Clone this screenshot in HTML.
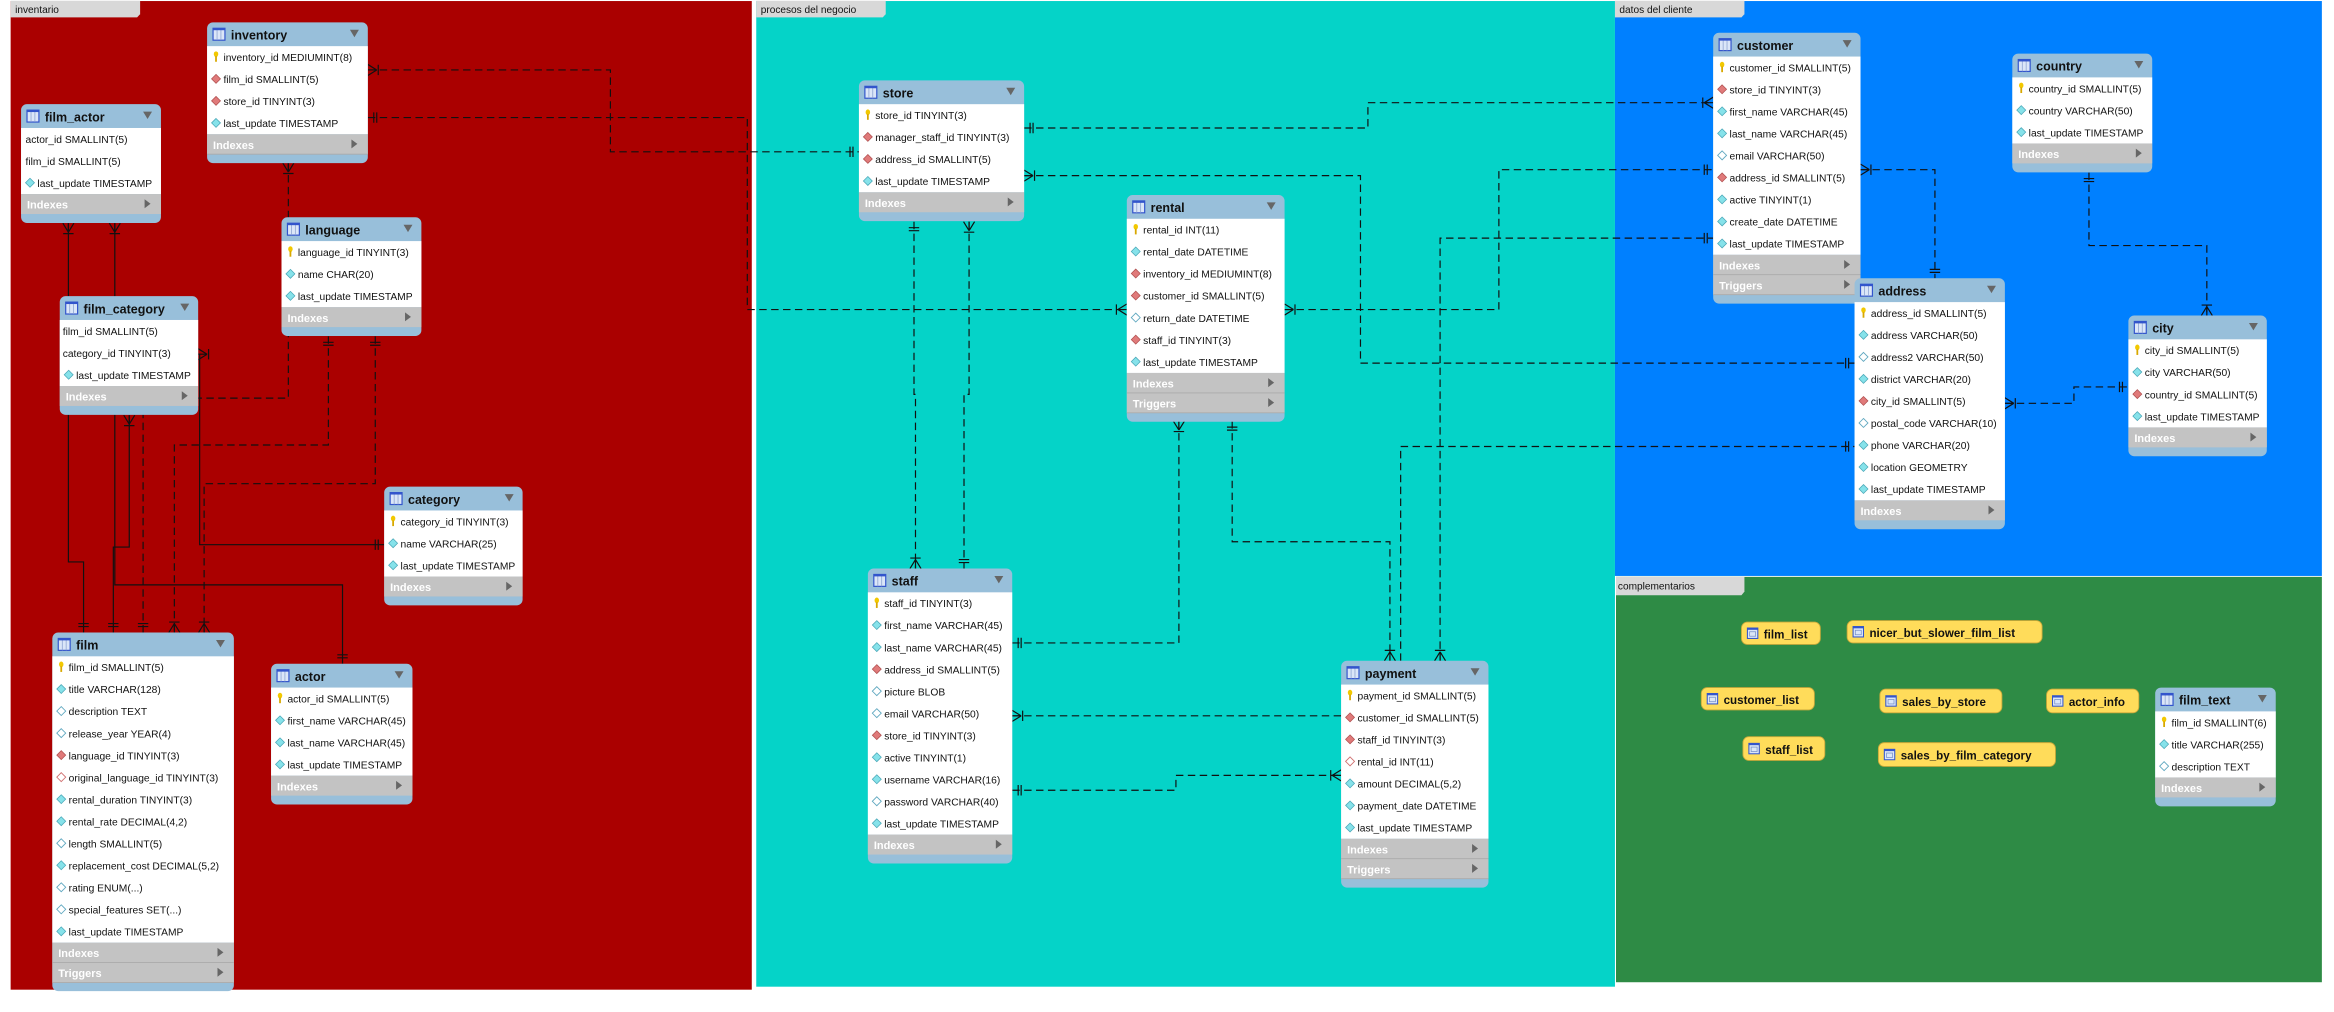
<!DOCTYPE html>
<html><head><meta charset="utf-8"><style>
html,body{margin:0;padding:0;background:#fff;}
svg{display:block}
text{font-family:"Liberation Sans",sans-serif;}
.h{font-size:8.4px;font-weight:bold;fill:#111}
.t{font-size:6.9px;fill:#111}
.s{font-size:7.4px;font-weight:bold;fill:#fff}
.g{font-size:6.8px;fill:#111}
.v{font-size:7.8px;font-weight:bold;fill:#111}
.dl{fill:none;stroke:#111;stroke-width:0.8;stroke-dasharray:5,3}
.sl{fill:none;stroke:#111;stroke-width:0.8}
</style></head><body>
<svg width="2334" height="1012" viewBox="0 0 1568 680" xmlns="http://www.w3.org/2000/svg">
<defs>
<marker id="one" markerUnits="userSpaceOnUse" markerWidth="20" markerHeight="20" refX="10" refY="10" orient="auto-start-reverse" viewBox="0 0 20 20"><path d="M4,6.5V13.5M6,6.5V13.5" stroke="#111" stroke-width="0.8" fill="none"/></marker>
<marker id="many" markerUnits="userSpaceOnUse" markerWidth="20" markerHeight="20" refX="10" refY="10" orient="auto-start-reverse" viewBox="0 0 20 20"><path d="M4,10L10,6.3M4,10L10,13.7M4,10H10M3,6.5V13.5" stroke="#111" stroke-width="0.8" fill="none"/></marker>
<g id="dk"><ellipse cx="0" cy="-1.8" rx="1.5" ry="1.9" fill="#f2c800"/><rect x="-0.6" y="-0.5" width="1.2" height="3.8" fill="#d8a800"/></g>
<g id="dc"><path d="M0,-3L3,0L0,3L-3,0Z" fill="#86e2ea" stroke="#4aa8b8" stroke-width="0.5"/></g>
<g id="dr"><path d="M0,-3L3,0L0,3L-3,0Z" fill="#e07a7a" stroke="#b05050" stroke-width="0.5"/></g>
<g id="de"><path d="M0,-3L3,0L0,3L-3,0Z" fill="#fff" stroke="#60a8c0" stroke-width="0.6"/></g>
<g id="dx"><path d="M0,-3L3,0L0,3L-3,0Z" fill="#fff" stroke="#d07070" stroke-width="0.6"/></g>
<g id="ti"><rect x="0" y="0" width="8" height="8" fill="#dbe6f8" stroke="#3355cc" stroke-width="0.8"/><path d="M2.7,1V8M5.3,1V8" stroke="#8aa0d0" stroke-width="0.5"/><rect x="0" y="0" width="8" height="1.3" fill="#3355cc"/></g>
<g id="vi"><rect x="0" y="0" width="7" height="7" fill="#dbe6f8" stroke="#3355cc" stroke-width="0.7"/><rect x="1.5" y="2.5" width="4" height="3" fill="none" stroke="#7790c8" stroke-width="0.5"/><rect x="0" y="0" width="7" height="1.2" fill="#3355cc"/></g>
</defs>

<!-- regions -->
<rect x="7" y="0.7" width="498" height="664.3" fill="#aa0000"/>
<rect x="508" y="0.7" width="577" height="662.3" fill="#05d3c8"/>
<rect x="1085" y="0.7" width="475" height="386.3" fill="#0080ff"/>
<rect x="1085.7" y="387.6" width="474.3" height="272.4" fill="#2e8b45"/>
<path d="M7,0.5H94V9.5L92,11.7H7Z" fill="#d8d8d8"/><text class="g" x="10" y="8.8">inventario</text>
<path d="M508,0.5H595V9.5L593,11.7H508Z" fill="#d8d8d8"/><text class="g" x="511" y="8.8">procesos del negocio</text>
<path d="M1085,0.5H1172V9.5L1170,11.7H1085Z" fill="#d8d8d8"/><text class="g" x="1088" y="8.8">datos del cliente</text>
<path d="M1085.7,387.6H1172V397.5L1170,400H1085.7Z" fill="#d8d8d8"/><text class="g" x="1087" y="396.2">complementarios</text>

<!-- connectors -->
<path class="dl" d="M247,47H410V102H577" marker-start="url(#many)" marker-end="url(#one)"/>
<path class="dl" d="M247,79H502V208H757" marker-start="url(#one)" marker-end="url(#many)"/>
<path class="dl" d="M688,86H919V69H1151" marker-start="url(#one)" marker-end="url(#many)"/>
<path class="dl" d="M688,118H914V244H1246" marker-start="url(#many)" marker-end="url(#one)"/>
<path class="dl" d="M863,208H1007V114H1151" marker-start="url(#many)" marker-end="url(#one)"/>
<path class="dl" d="M967.5,444V160H1151" marker-start="url(#many)" marker-end="url(#one)"/>
<path class="dl" d="M941,444V300H1246" marker-end="url(#one)"/>
<path class="dl" d="M827.8,283V364H933.8V444" marker-start="url(#one)" marker-end="url(#many)"/>
<path class="dl" d="M792,283V432H680" marker-start="url(#many)" marker-end="url(#one)"/>
<path class="dl" d="M680,481H901" marker-start="url(#many)"/>
<path class="dl" d="M680,531H790V521H901" marker-start="url(#one)" marker-end="url(#many)"/>
<path class="dl" d="M614,149V265H615V382" marker-start="url(#one)" marker-end="url(#many)"/>
<path class="dl" d="M651,149V265H647.6V382" marker-start="url(#many)" marker-end="url(#one)"/>
<path class="dl" d="M1250,114H1300V187" marker-start="url(#many)" marker-end="url(#one)"/>
<path class="dl" d="M1403.5,116V165H1482.7V212" marker-start="url(#one)" marker-end="url(#many)"/>
<path class="dl" d="M1347,271H1393.4V260H1430" marker-start="url(#many)" marker-end="url(#one)"/>
<path class="sl" d="M45.8,150V377.6H56V425" marker-start="url(#many)" marker-end="url(#one)"/>
<path class="sl" d="M77,150V393H230V446" marker-start="url(#many)" marker-end="url(#one)"/>
<path class="sl" d="M86.7,279V367.6H76V425" marker-start="url(#many)" marker-end="url(#one)"/>
<path class="sl" d="M133,238H134V366H258" marker-start="url(#many)" marker-end="url(#one)"/>
<path class="dl" d="M193.6,109.6V267.5H96V425" marker-start="url(#many)" marker-end="url(#one)"/>
<path class="dl" d="M220.5,226V299H117V425" marker-start="url(#one)" marker-end="url(#many)"/>
<path class="dl" d="M252,226V325H137V425" marker-start="url(#one)" marker-end="url(#many)"/>

<!-- inventory -->
<g>
<rect x="139" y="15" width="108" height="94.6" rx="4" fill="#98bfda"/>
<rect x="139" y="31" width="108" height="59.2" fill="#fff"/>
<rect x="139" y="90.2" width="108" height="13.4" fill="#c3c3c3"/><path d="M139,103.6h108" stroke="#aaa" stroke-width="0.6"/>
<use href="#ti" x="143" y="19"/><text class="h" x="155" y="26.5">inventory</text><polygon points="235,20 241,20 238,25" fill="#666"/>
<use href="#dk" x="145" y="38.2"/><text class="t" x="150" y="41">inventory_id MEDIUMINT(8)</text>
<use href="#dr" x="145" y="53"/><text class="t" x="150" y="55.8">film_id SMALLINT(5)</text>
<use href="#dr" x="145" y="67.8"/><text class="t" x="150" y="70.6">store_id TINYINT(3)</text>
<use href="#dc" x="145" y="82.6"/><text class="t" x="150" y="85.4">last_update TIMESTAMP</text>
<text class="s" x="143" y="100">Indexes</text><polygon points="236,93.7 236,99.7 240,96.7" fill="#666"/>
</g>
<!-- film_actor -->
<g>
<rect x="14" y="70" width="94" height="79.8" rx="4" fill="#98bfda"/>
<rect x="14" y="86" width="94" height="44.4" fill="#fff"/>
<rect x="14" y="130.4" width="94" height="13.4" fill="#c3c3c3"/>
<use href="#ti" x="18" y="74"/><text class="h" x="30" y="81.5">film_actor</text><polygon points="96,75 102,75 99,80" fill="#666"/>
<text class="t" x="17" y="96">actor_id SMALLINT(5)</text>
<text class="t" x="17" y="110.8">film_id SMALLINT(5)</text>
<use href="#dc" x="20" y="122.8"/><text class="t" x="25" y="125.6">last_update TIMESTAMP</text>
<text class="s" x="18" y="140.2">Indexes</text><polygon points="97,133.9 97,139.9 101,136.9" fill="#666"/>
</g>
<!-- language -->
<g>
<rect x="189" y="146" width="94" height="79.8" rx="4" fill="#98bfda"/>
<rect x="189" y="162" width="94" height="44.4" fill="#fff"/>
<rect x="189" y="206.4" width="94" height="13.4" fill="#c3c3c3"/>
<use href="#ti" x="193" y="150"/><text class="h" x="205" y="157.5">language</text><polygon points="271,151 277,151 274,156" fill="#666"/>
<use href="#dk" x="195" y="169.2"/><text class="t" x="200" y="172">language_id TINYINT(3)</text>
<use href="#dc" x="195" y="184"/><text class="t" x="200" y="186.8">name CHAR(20)</text>
<use href="#dc" x="195" y="198.8"/><text class="t" x="200" y="201.6">last_update TIMESTAMP</text>
<text class="s" x="193" y="216.2">Indexes</text><polygon points="272,209.9 272,215.9 276,212.9" fill="#666"/>
</g>
<!-- film_category -->
<g>
<rect x="40" y="199" width="93" height="79.8" rx="4" fill="#98bfda"/>
<rect x="40" y="215" width="93" height="44.4" fill="#fff"/>
<rect x="40" y="259.4" width="93" height="13.4" fill="#c3c3c3"/>
<use href="#ti" x="44" y="203"/><text class="h" x="56" y="210.5">film_category</text><polygon points="121,204 127,204 124,209" fill="#666"/>
<text class="t" x="42" y="225">film_id SMALLINT(5)</text>
<text class="t" x="42" y="239.8">category_id TINYINT(3)</text>
<use href="#dc" x="46" y="251.8"/><text class="t" x="51" y="254.6">last_update TIMESTAMP</text>
<text class="s" x="44" y="269.2">Indexes</text><polygon points="122,262.9 122,268.9 126,265.9" fill="#666"/>
</g>
<!-- category -->
<g>
<rect x="258" y="327" width="93" height="79.8" rx="4" fill="#98bfda"/>
<rect x="258" y="343" width="93" height="44.4" fill="#fff"/>
<rect x="258" y="387.4" width="93" height="13.4" fill="#c3c3c3"/>
<use href="#ti" x="262" y="331"/><text class="h" x="274" y="338.5">category</text><polygon points="339,332 345,332 342,337" fill="#666"/>
<use href="#dk" x="264" y="350.2"/><text class="t" x="269" y="353">category_id TINYINT(3)</text>
<use href="#dc" x="264" y="365"/><text class="t" x="269" y="367.8">name VARCHAR(25)</text>
<use href="#dc" x="264" y="379.8"/><text class="t" x="269" y="382.6">last_update TIMESTAMP</text>
<text class="s" x="262" y="397.2">Indexes</text><polygon points="340,390.9 340,396.9 344,393.9" fill="#666"/>
</g>
<!-- film -->
<g>
<rect x="35" y="425" width="122" height="241" rx="4" fill="#98bfda"/>
<rect x="35" y="441" width="122" height="192.4" fill="#fff"/>
<rect x="35" y="633.4" width="122" height="13.4" fill="#c3c3c3"/>
<rect x="35" y="646.8" width="122" height="13.4" fill="#c3c3c3"/><path d="M35,646.8h122M35,660.2h122" stroke="#aaa" stroke-width="0.6"/>
<use href="#ti" x="39" y="429"/><text class="h" x="51" y="436.5">film</text><polygon points="145,430 151,430 148,435" fill="#666"/>
<use href="#dk" x="41" y="448.2"/><text class="t" x="46" y="451">film_id SMALLINT(5)</text>
<use href="#dc" x="41" y="463"/><text class="t" x="46" y="465.8">title VARCHAR(128)</text>
<use href="#de" x="41" y="477.8"/><text class="t" x="46" y="480.6">description TEXT</text>
<use href="#de" x="41" y="492.6"/><text class="t" x="46" y="495.4">release_year YEAR(4)</text>
<use href="#dr" x="41" y="507.4"/><text class="t" x="46" y="510.2">language_id TINYINT(3)</text>
<use href="#dx" x="41" y="522.2"/><text class="t" x="46" y="525">original_language_id TINYINT(3)</text>
<use href="#dc" x="41" y="537"/><text class="t" x="46" y="539.8">rental_duration TINYINT(3)</text>
<use href="#dc" x="41" y="551.8"/><text class="t" x="46" y="554.6">rental_rate DECIMAL(4,2)</text>
<use href="#de" x="41" y="566.6"/><text class="t" x="46" y="569.4">length SMALLINT(5)</text>
<use href="#dc" x="41" y="581.4"/><text class="t" x="46" y="584.2">replacement_cost DECIMAL(5,2)</text>
<use href="#de" x="41" y="596.2"/><text class="t" x="46" y="599">rating ENUM(...)</text>
<use href="#de" x="41" y="611"/><text class="t" x="46" y="613.8">special_features SET(...)</text>
<use href="#dc" x="41" y="625.8"/><text class="t" x="46" y="628.6">last_update TIMESTAMP</text>
<text class="s" x="39" y="643.2">Indexes</text><polygon points="146,636.9 146,642.9 150,639.9" fill="#666"/>
<text class="s" x="39" y="656.6">Triggers</text><polygon points="146,650.3 146,656.3 150,653.3" fill="#666"/>
</g>
<!-- actor -->
<g>
<rect x="182" y="446" width="95" height="94.6" rx="4" fill="#98bfda"/>
<rect x="182" y="462" width="95" height="59.2" fill="#fff"/>
<rect x="182" y="521.2" width="95" height="13.4" fill="#c3c3c3"/>
<use href="#ti" x="186" y="450"/><text class="h" x="198" y="457.5">actor</text><polygon points="265,451 271,451 268,456" fill="#666"/>
<use href="#dk" x="188" y="469.2"/><text class="t" x="193" y="472">actor_id SMALLINT(5)</text>
<use href="#dc" x="188" y="484"/><text class="t" x="193" y="486.8">first_name VARCHAR(45)</text>
<use href="#dc" x="188" y="498.8"/><text class="t" x="193" y="501.6">last_name VARCHAR(45)</text>
<use href="#dc" x="188" y="513.6"/><text class="t" x="193" y="516.4">last_update TIMESTAMP</text>
<text class="s" x="186" y="531">Indexes</text><polygon points="266,524.7 266,530.7 270,527.7" fill="#666"/>
</g>
<!-- store -->
<g>
<rect x="577" y="54" width="111" height="94.6" rx="4" fill="#98bfda"/>
<rect x="577" y="70" width="111" height="59.2" fill="#fff"/>
<rect x="577" y="129.2" width="111" height="13.4" fill="#c3c3c3"/>
<use href="#ti" x="581" y="58"/><text class="h" x="593" y="65.5">store</text><polygon points="676,59 682,59 679,64" fill="#666"/>
<use href="#dk" x="583" y="77.2"/><text class="t" x="588" y="80">store_id TINYINT(3)</text>
<use href="#dr" x="583" y="92"/><text class="t" x="588" y="94.8">manager_staff_id TINYINT(3)</text>
<use href="#dr" x="583" y="106.8"/><text class="t" x="588" y="109.6">address_id SMALLINT(5)</text>
<use href="#dc" x="583" y="121.6"/><text class="t" x="588" y="124.4">last_update TIMESTAMP</text>
<text class="s" x="581" y="139">Indexes</text><polygon points="677,132.7 677,138.7 681,135.7" fill="#666"/>
</g>
<!-- rental -->
<g>
<rect x="757" y="131" width="106" height="152.4" rx="4" fill="#98bfda"/>
<rect x="757" y="147" width="106" height="103.6" fill="#fff"/>
<rect x="757" y="250.6" width="106" height="13.4" fill="#c3c3c3"/>
<rect x="757" y="264" width="106" height="13.4" fill="#c3c3c3"/><path d="M757,264h106M757,277.4h106" stroke="#aaa" stroke-width="0.6"/>
<use href="#ti" x="761" y="135"/><text class="h" x="773" y="142.5">rental</text><polygon points="851,136 857,136 854,141" fill="#666"/>
<use href="#dk" x="763" y="154.2"/><text class="t" x="768" y="157">rental_id INT(11)</text>
<use href="#dc" x="763" y="169"/><text class="t" x="768" y="171.8">rental_date DATETIME</text>
<use href="#dr" x="763" y="183.8"/><text class="t" x="768" y="186.6">inventory_id MEDIUMINT(8)</text>
<use href="#dr" x="763" y="198.6"/><text class="t" x="768" y="201.4">customer_id SMALLINT(5)</text>
<use href="#de" x="763" y="213.4"/><text class="t" x="768" y="216.2">return_date DATETIME</text>
<use href="#dr" x="763" y="228.2"/><text class="t" x="768" y="231">staff_id TINYINT(3)</text>
<use href="#dc" x="763" y="243"/><text class="t" x="768" y="245.8">last_update TIMESTAMP</text>
<text class="s" x="761" y="260.4">Indexes</text><polygon points="852,254.1 852,260.1 856,257.1" fill="#666"/>
<text class="s" x="761" y="273.8">Triggers</text><polygon points="852,267.5 852,273.5 856,270.5" fill="#666"/>
</g>
<!-- staff -->
<g>
<rect x="583" y="382" width="97" height="198.2" rx="4" fill="#98bfda"/>
<rect x="583" y="398" width="97" height="162.8" fill="#fff"/>
<rect x="583" y="560.8" width="97" height="13.4" fill="#c3c3c3"/>
<use href="#ti" x="587" y="386"/><text class="h" x="599" y="393.5">staff</text><polygon points="668,387 674,387 671,392" fill="#666"/>
<use href="#dk" x="589" y="405.2"/><text class="t" x="594" y="408">staff_id TINYINT(3)</text>
<use href="#dc" x="589" y="420"/><text class="t" x="594" y="422.8">first_name VARCHAR(45)</text>
<use href="#dc" x="589" y="434.8"/><text class="t" x="594" y="437.6">last_name VARCHAR(45)</text>
<use href="#dr" x="589" y="449.6"/><text class="t" x="594" y="452.4">address_id SMALLINT(5)</text>
<use href="#de" x="589" y="464.4"/><text class="t" x="594" y="467.2">picture BLOB</text>
<use href="#de" x="589" y="479.2"/><text class="t" x="594" y="482">email VARCHAR(50)</text>
<use href="#dr" x="589" y="494"/><text class="t" x="594" y="496.8">store_id TINYINT(3)</text>
<use href="#dc" x="589" y="508.8"/><text class="t" x="594" y="511.6">active TINYINT(1)</text>
<use href="#dc" x="589" y="523.6"/><text class="t" x="594" y="526.4">username VARCHAR(16)</text>
<use href="#de" x="589" y="538.4"/><text class="t" x="594" y="541.2">password VARCHAR(40)</text>
<use href="#dc" x="589" y="553.2"/><text class="t" x="594" y="556">last_update TIMESTAMP</text>
<text class="s" x="587" y="570.6">Indexes</text><polygon points="669,564.3 669,570.3 673,567.3" fill="#666"/>
</g>
<!-- payment -->
<g>
<rect x="901" y="444" width="99" height="152.4" rx="4" fill="#98bfda"/>
<rect x="901" y="460" width="99" height="103.6" fill="#fff"/>
<rect x="901" y="563.6" width="99" height="13.4" fill="#c3c3c3"/>
<rect x="901" y="577" width="99" height="13.4" fill="#c3c3c3"/><path d="M901,577h99M901,590.4h99" stroke="#aaa" stroke-width="0.6"/>
<use href="#ti" x="905" y="448"/><text class="h" x="917" y="455.5">payment</text><polygon points="988,449 994,449 991,454" fill="#666"/>
<use href="#dk" x="907" y="467.2"/><text class="t" x="912" y="470">payment_id SMALLINT(5)</text>
<use href="#dr" x="907" y="482"/><text class="t" x="912" y="484.8">customer_id SMALLINT(5)</text>
<use href="#dr" x="907" y="496.8"/><text class="t" x="912" y="499.6">staff_id TINYINT(3)</text>
<use href="#dx" x="907" y="511.6"/><text class="t" x="912" y="514.4">rental_id INT(11)</text>
<use href="#dc" x="907" y="526.4"/><text class="t" x="912" y="529.2">amount DECIMAL(5,2)</text>
<use href="#dc" x="907" y="541.2"/><text class="t" x="912" y="544">payment_date DATETIME</text>
<use href="#dc" x="907" y="556"/><text class="t" x="912" y="558.8">last_update TIMESTAMP</text>
<text class="s" x="905" y="573.4">Indexes</text><polygon points="989,567.1 989,573.1 993,570.1" fill="#666"/>
<text class="s" x="905" y="586.8">Triggers</text><polygon points="989,580.5 989,586.5 993,583.5" fill="#666"/>
</g>
<!-- customer -->
<g>
<rect x="1151" y="22" width="99" height="182" rx="4" fill="#98bfda"/>
<rect x="1151" y="38" width="99" height="133.2" fill="#fff"/>
<rect x="1151" y="171.2" width="99" height="13.4" fill="#c3c3c3"/>
<rect x="1151" y="184.6" width="99" height="13.4" fill="#c3c3c3"/><path d="M1151,184.6h99M1151,198h99" stroke="#aaa" stroke-width="0.6"/>
<use href="#ti" x="1155" y="26"/><text class="h" x="1167" y="33.5">customer</text><polygon points="1238,27 1244,27 1241,32" fill="#666"/>
<use href="#dk" x="1157" y="45.2"/><text class="t" x="1162" y="48">customer_id SMALLINT(5)</text>
<use href="#dr" x="1157" y="60"/><text class="t" x="1162" y="62.8">store_id TINYINT(3)</text>
<use href="#dc" x="1157" y="74.8"/><text class="t" x="1162" y="77.6">first_name VARCHAR(45)</text>
<use href="#dc" x="1157" y="89.6"/><text class="t" x="1162" y="92.4">last_name VARCHAR(45)</text>
<use href="#de" x="1157" y="104.4"/><text class="t" x="1162" y="107.2">email VARCHAR(50)</text>
<use href="#dr" x="1157" y="119.2"/><text class="t" x="1162" y="122">address_id SMALLINT(5)</text>
<use href="#dc" x="1157" y="134"/><text class="t" x="1162" y="136.8">active TINYINT(1)</text>
<use href="#dc" x="1157" y="148.8"/><text class="t" x="1162" y="151.6">create_date DATETIME</text>
<use href="#dc" x="1157" y="163.6"/><text class="t" x="1162" y="166.4">last_update TIMESTAMP</text>
<text class="s" x="1155" y="181">Indexes</text><polygon points="1239,174.7 1239,180.7 1243,177.7" fill="#666"/>
<text class="s" x="1155" y="194.4">Triggers</text><polygon points="1239,188.1 1239,194.1 1243,191.1" fill="#666"/>
</g>
<!-- country -->
<g>
<rect x="1352" y="36" width="94" height="79.8" rx="4" fill="#98bfda"/>
<rect x="1352" y="52" width="94" height="44.4" fill="#fff"/>
<rect x="1352" y="96.4" width="94" height="13.4" fill="#c3c3c3"/>
<use href="#ti" x="1356" y="40"/><text class="h" x="1368" y="47.5">country</text><polygon points="1434,41 1440,41 1437,46" fill="#666"/>
<use href="#dk" x="1358" y="59.2"/><text class="t" x="1363" y="62">country_id SMALLINT(5)</text>
<use href="#dc" x="1358" y="74"/><text class="t" x="1363" y="76.8">country VARCHAR(50)</text>
<use href="#dc" x="1358" y="88.8"/><text class="t" x="1363" y="91.6">last_update TIMESTAMP</text>
<text class="s" x="1356" y="106.2">Indexes</text><polygon points="1435,99.9 1435,105.9 1439,102.9" fill="#666"/>
</g>
<!-- address -->
<g>
<rect x="1246" y="187" width="101" height="168.6" rx="4" fill="#98bfda"/>
<rect x="1246" y="203" width="101" height="133.2" fill="#fff"/>
<rect x="1246" y="336.2" width="101" height="13.4" fill="#c3c3c3"/>
<use href="#ti" x="1250" y="191"/><text class="h" x="1262" y="198.5">address</text><polygon points="1335,192 1341,192 1338,197" fill="#666"/>
<use href="#dk" x="1252" y="210.2"/><text class="t" x="1257" y="213">address_id SMALLINT(5)</text>
<use href="#dc" x="1252" y="225"/><text class="t" x="1257" y="227.8">address VARCHAR(50)</text>
<use href="#de" x="1252" y="239.8"/><text class="t" x="1257" y="242.6">address2 VARCHAR(50)</text>
<use href="#dc" x="1252" y="254.6"/><text class="t" x="1257" y="257.4">district VARCHAR(20)</text>
<use href="#dr" x="1252" y="269.4"/><text class="t" x="1257" y="272.2">city_id SMALLINT(5)</text>
<use href="#de" x="1252" y="284.2"/><text class="t" x="1257" y="287">postal_code VARCHAR(10)</text>
<use href="#dc" x="1252" y="299"/><text class="t" x="1257" y="301.8">phone VARCHAR(20)</text>
<use href="#dc" x="1252" y="313.8"/><text class="t" x="1257" y="316.6">location GEOMETRY</text>
<use href="#dc" x="1252" y="328.6"/><text class="t" x="1257" y="331.4">last_update TIMESTAMP</text>
<text class="s" x="1250" y="346">Indexes</text><polygon points="1336,339.7 1336,345.7 1340,342.7" fill="#666"/>
</g>
<!-- city -->
<g>
<rect x="1430" y="212" width="93" height="94.6" rx="4" fill="#98bfda"/>
<rect x="1430" y="228" width="93" height="59.2" fill="#fff"/>
<rect x="1430" y="287.2" width="93" height="13.4" fill="#c3c3c3"/>
<use href="#ti" x="1434" y="216"/><text class="h" x="1446" y="223.5">city</text><polygon points="1511,217 1517,217 1514,222" fill="#666"/>
<use href="#dk" x="1436" y="235.2"/><text class="t" x="1441" y="238">city_id SMALLINT(5)</text>
<use href="#dc" x="1436" y="250"/><text class="t" x="1441" y="252.8">city VARCHAR(50)</text>
<use href="#dr" x="1436" y="264.8"/><text class="t" x="1441" y="267.6">country_id SMALLINT(5)</text>
<use href="#dc" x="1436" y="279.6"/><text class="t" x="1441" y="282.4">last_update TIMESTAMP</text>
<text class="s" x="1434" y="297">Indexes</text><polygon points="1512,290.7 1512,296.7 1516,293.7" fill="#666"/>
</g>
<!-- film_text -->
<g>
<rect x="1448" y="462" width="81" height="79.8" rx="4" fill="#98bfda"/>
<rect x="1448" y="478" width="81" height="44.4" fill="#fff"/>
<rect x="1448" y="522.4" width="81" height="13.4" fill="#c3c3c3"/>
<use href="#ti" x="1452" y="466"/><text class="h" x="1464" y="473.5">film_text</text><polygon points="1517,467 1523,467 1520,472" fill="#666"/>
<use href="#dk" x="1454" y="485.2"/><text class="t" x="1459" y="488">film_id SMALLINT(6)</text>
<use href="#dc" x="1454" y="500"/><text class="t" x="1459" y="502.8">title VARCHAR(255)</text>
<use href="#de" x="1454" y="514.8"/><text class="t" x="1459" y="517.6">description TEXT</text>
<text class="s" x="1452" y="532.2">Indexes</text><polygon points="1518,525.9 1518,531.9 1522,528.9" fill="#666"/>
</g>

<!-- views -->
<g stroke="#c9a93a" stroke-width="0.6" fill="#ffdc5a">
<rect x="1170" y="418" width="53" height="15" rx="4"/>
<rect x="1241" y="417" width="131" height="15" rx="4"/>
<rect x="1143" y="462" width="76" height="15" rx="4"/>
<rect x="1263" y="463" width="82" height="16" rx="4"/>
<rect x="1375" y="463" width="62" height="16" rx="4"/>
<rect x="1171" y="495" width="55" height="16" rx="4"/>
<rect x="1262" y="499" width="119" height="16" rx="4"/>
</g>
<use href="#vi" x="1174" y="422"/><text class="v" x="1185" y="429">film_list</text>
<use href="#vi" x="1245" y="421"/><text class="v" x="1256" y="428">nicer_but_slower_film_list</text>
<use href="#vi" x="1147" y="466"/><text class="v" x="1158" y="473">customer_list</text>
<use href="#vi" x="1267" y="467.5"/><text class="v" x="1278" y="474.5">sales_by_store</text>
<use href="#vi" x="1379" y="467.5"/><text class="v" x="1390" y="474.5">actor_info</text>
<use href="#vi" x="1175" y="499.5"/><text class="v" x="1186" y="506.5">staff_list</text>
<use href="#vi" x="1266" y="503.5"/><text class="v" x="1277" y="510.5">sales_by_film_category</text>
</svg>
</body></html>
